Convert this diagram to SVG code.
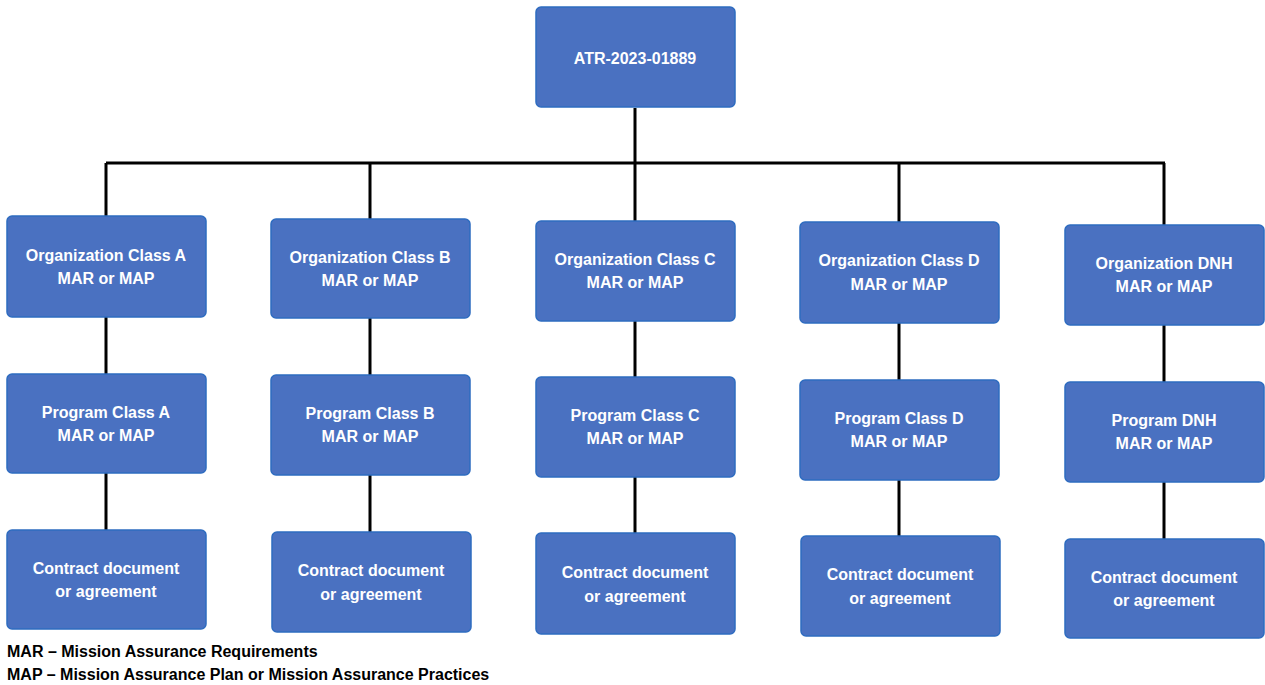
<svg xmlns="http://www.w3.org/2000/svg" width="1265" height="685" viewBox="0 0 1265 685">
<style>
.n{fill:#4a71c1;stroke:#2e6cc0;stroke-width:1.5}
.t{font-family:"Liberation Sans",Arial,sans-serif;font-weight:bold;font-size:16px;fill:#fff;text-anchor:middle}
.c{stroke:#000;stroke-width:3;fill:none}
.l{font-family:"Liberation Sans",Arial,sans-serif;font-weight:bold;font-size:16px;fill:#000}
</style>
<rect width="1265" height="685" fill="#fff"/>
<g id="connectors">
<path class="c" d="M635 108V163M106 163H1165M106 163V216M370 163V219M635 163V221M899 163V222M1164 163V225"/>
<path class="c" d="M106 317V374M106 473V530M370 318V375M370 475V532M635 321V377M635 477V533M899 323V380M899 480V536M1164 325V382M1164 482V539"/>
</g>
<g id="root"><rect class="n" x="536" y="7" width="199" height="100" rx="5"/><text class="t" x="635" y="64">ATR-2023-01889</text></g>
<g id="orgA"><rect class="n" x="7" y="216" width="199" height="101" rx="5"/><text class="t" x="106" y="261">Organization Class A</text><text class="t" x="106" y="284">MAR or MAP</text></g>
<g id="progA"><rect class="n" x="7" y="374" width="199" height="99" rx="5"/><text class="t" x="106" y="418">Program Class A</text><text class="t" x="106" y="441">MAR or MAP</text></g>
<g id="contA"><rect class="n" x="7" y="530" width="199" height="99" rx="5"/><text class="t" x="106" y="574">Contract document</text><text class="t" x="106" y="597">or agreement</text></g>
<g id="orgB"><rect class="n" x="271" y="219" width="199" height="99" rx="5"/><text class="t" x="370" y="263">Organization Class B</text><text class="t" x="370" y="286">MAR or MAP</text></g>
<g id="progB"><rect class="n" x="271" y="375" width="199" height="100" rx="5"/><text class="t" x="370" y="419">Program Class B</text><text class="t" x="370" y="442">MAR or MAP</text></g>
<g id="contB"><rect class="n" x="272" y="532" width="199" height="100" rx="5"/><text class="t" x="371" y="576">Contract document</text><text class="t" x="371" y="600">or agreement</text></g>
<g id="orgC"><rect class="n" x="536" y="221" width="199" height="100" rx="5"/><text class="t" x="635" y="265">Organization Class C</text><text class="t" x="635" y="288">MAR or MAP</text></g>
<g id="progC"><rect class="n" x="536" y="377" width="199" height="100" rx="5"/><text class="t" x="635" y="421">Program Class C</text><text class="t" x="635" y="444">MAR or MAP</text></g>
<g id="contC"><rect class="n" x="536" y="533" width="199" height="101" rx="5"/><text class="t" x="635" y="578">Contract document</text><text class="t" x="635" y="602">or agreement</text></g>
<g id="orgD"><rect class="n" x="800" y="222" width="199" height="101" rx="5"/><text class="t" x="899" y="266">Organization Class D</text><text class="t" x="899" y="290">MAR or MAP</text></g>
<g id="progD"><rect class="n" x="800" y="380" width="199" height="100" rx="5"/><text class="t" x="899" y="424">Program Class D</text><text class="t" x="899" y="447">MAR or MAP</text></g>
<g id="contD"><rect class="n" x="801" y="536" width="199" height="100" rx="5"/><text class="t" x="900" y="580">Contract document</text><text class="t" x="900" y="604">or agreement</text></g>
<g id="orgDNH"><rect class="n" x="1065" y="225" width="199" height="100" rx="5"/><text class="t" x="1164" y="269">Organization DNH</text><text class="t" x="1164" y="292">MAR or MAP</text></g>
<g id="progDNH"><rect class="n" x="1065" y="382" width="199" height="100" rx="5"/><text class="t" x="1164" y="426">Program DNH</text><text class="t" x="1164" y="449">MAR or MAP</text></g>
<g id="contDNH"><rect class="n" x="1065" y="539" width="199" height="99" rx="5"/><text class="t" x="1164" y="583">Contract document</text><text class="t" x="1164" y="606">or agreement</text></g>
<g id="legend"><text class="l" x="7" y="657">MAR – Mission Assurance Requirements</text><text class="l" x="7" y="680">MAP – Mission Assurance Plan or Mission Assurance Practices</text></g>
</svg>
